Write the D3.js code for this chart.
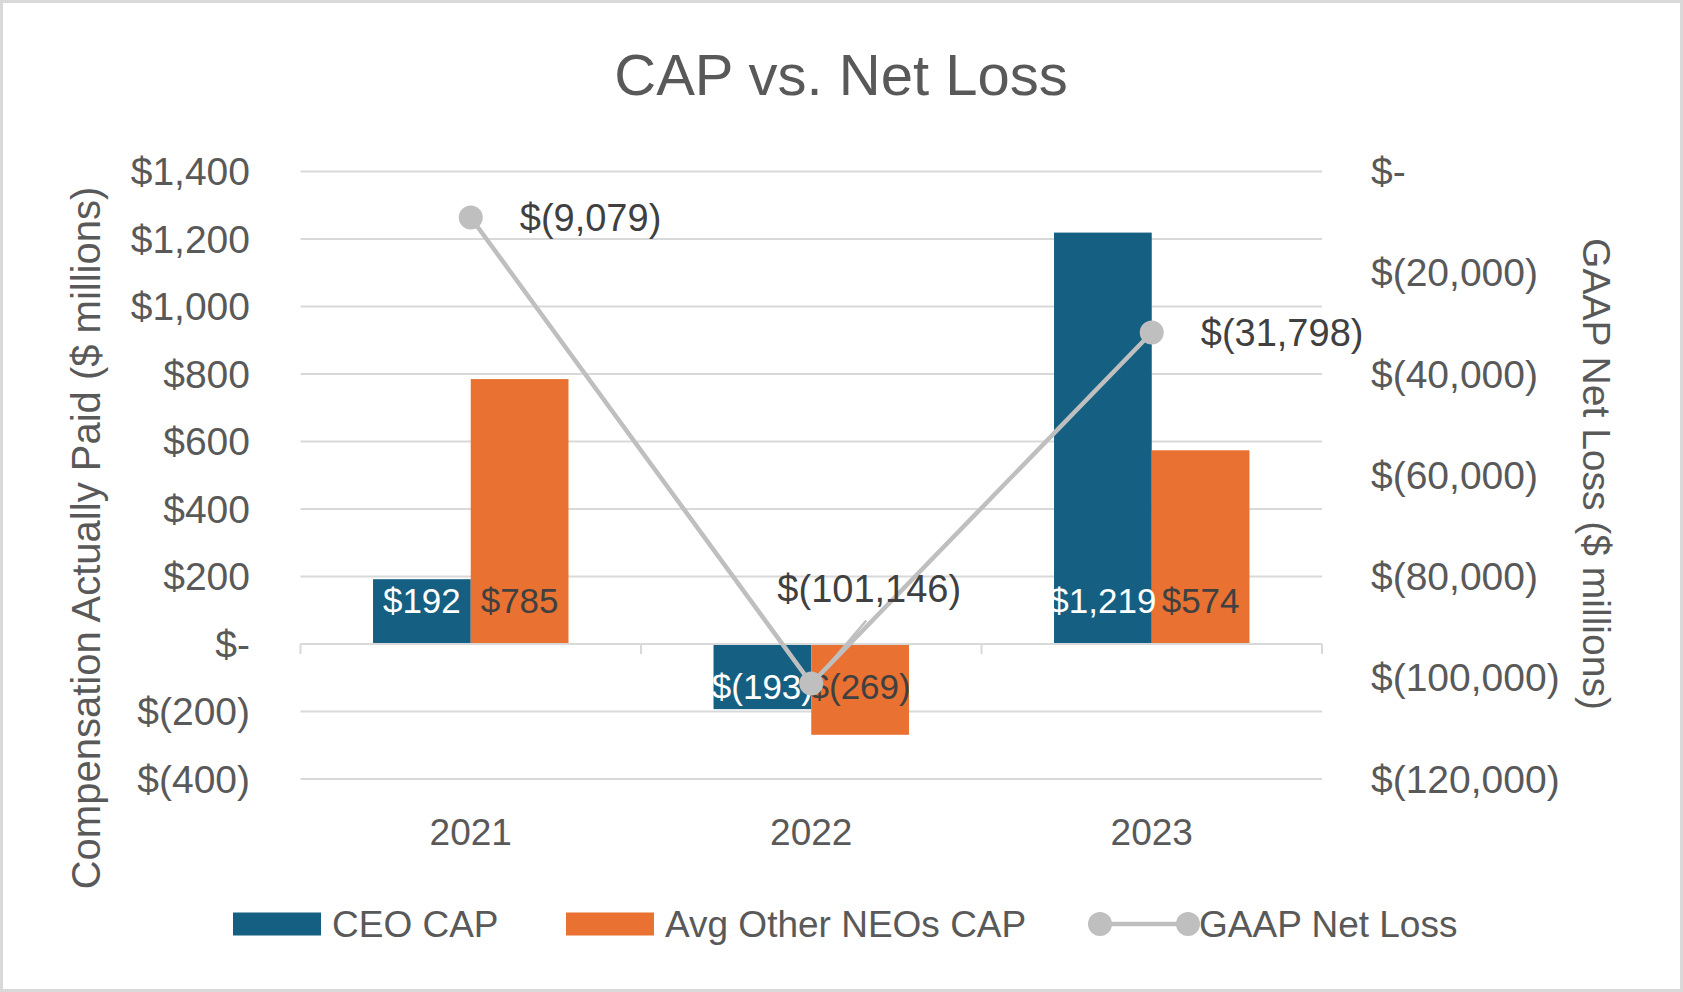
<!DOCTYPE html>
<html>
<head>
<meta charset="utf-8">
<script src="https://cdn.jsdelivr.net/npm/d3@7"></script>
<style>
  body { margin: 0; background: #fff; }
  svg text { font-family: "Liberation Sans", Arial, sans-serif; fill: #595959; }
</style>
</head>
<body>
<svg id="chart"></svg>
<script>
var width = 1683;
var height = 992;

var years = ["2021", "2022", "2023"];
var ceoCap = [192, -193, 1219];
var otherCap = [785, -269, 574];
var netLoss = [-9079, -101146, -31798];
var leftTicks = [1400, 1200, 1000, 800, 600, 400, 200, 0, -200, -400];
var rightTicks = [0, -20000, -40000, -60000, -80000, -100000, -120000];

var seriesNames = ["CEO CAP", "Avg Other NEOs CAP"];
var colors = ["#156082", "#E97132"];
var lineColor = "#BFBFBF";

var svg = d3.select("#chart").attr("width", width).attr("height", height);

svg.append("rect").attr("x", 1.5).attr("y", 1.5)
  .attr("width", width - 3).attr("height", height - 3)
  .attr("fill", "#fff").attr("stroke", "#D9D9D9").attr("stroke-width", 3);

var plotLeft = 300.5, plotRight = 1322, plotTop = 171.5, plotBottom = 779;

var x = d3.scaleBand().domain(years).range([plotLeft, plotRight]);
var bw = x.bandwidth();
var x1 = d3.scaleBand().domain(seriesNames).range([bw * 0.213, bw * 0.787]);
var y = d3.scaleLinear().domain([-400, 1400]).range([plotBottom, plotTop]);
var y2 = d3.scaleLinear().domain([-120000, 0]).range([plotBottom, plotTop]);

// title
svg.append("text").attr("x", 841).attr("y", 95)
  .attr("text-anchor", "middle").style("font-size", "58px").text("CAP vs. Net Loss");

// gridlines
svg.append("g").selectAll("line").data(leftTicks).enter().append("line")
  .attr("x1", plotLeft).attr("x2", plotRight)
  .attr("y1", function(d) { return y(d); }).attr("y2", function(d) { return y(d); })
  .attr("stroke", "#D9D9D9").attr("stroke-width", 2);

// axis labels
function fmt(v) {
  if (v === 0) return "$-";
  var s = d3.format(",")(Math.abs(v));
  return v < 0 ? "$(" + s + ")" : "$" + s;
}
svg.append("g").selectAll("text").data(leftTicks).enter().append("text")
  .attr("x", 250).attr("y", function(d) { return y(d); })
  .attr("dy", "0.35em").attr("text-anchor", "end")
  .style("font-size", "39px").text(fmt);

svg.append("g").selectAll("text").data(rightTicks).enter().append("text")
  .attr("x", 1371).attr("y", function(d) { return y2(d); })
  .attr("dy", "0.35em").attr("text-anchor", "start")
  .style("font-size", "39px").text(fmt);

// axis titles
svg.append("text").attr("transform", "translate(86,538) rotate(-90)")
  .attr("dy", "0.35em").attr("text-anchor", "middle").style("font-size", "40px")
  .text("Compensation Actually Paid ($ millions)");
svg.append("text").attr("transform", "translate(1597,474) rotate(90)")
  .attr("dy", "0.35em").attr("text-anchor", "middle").style("font-size", "39px")
  .text("GAAP Net Loss ($ millions)");

// bars
var barData = [];
years.forEach(function(yr, i) {
  barData.push({ year: yr, s: seriesNames[0], v: ceoCap[i], c: colors[0], tc: "#FFFFFF" });
  barData.push({ year: yr, s: seriesNames[1], v: otherCap[i], c: colors[1], tc: "#404040" });
});
svg.append("g").selectAll("rect").data(barData).enter().append("rect")
  .attr("x", function(d) { return x(d.year) + x1(d.s); })
  .attr("width", x1.bandwidth())
  .attr("y", function(d) { return y(Math.max(0, d.v)); })
  .attr("height", function(d) { return Math.abs(y(d.v) - y(0)); })
  .attr("fill", function(d) { return d.c; });

// x axis baseline and ticks
svg.append("line").attr("x1", plotLeft).attr("x2", plotRight)
  .attr("y1", y(0)).attr("y2", y(0)).attr("stroke", "#D9D9D9").attr("stroke-width", 2);
svg.append("g").selectAll("line").data([plotLeft].concat(years.map(function(d) { return x(d) + bw; })))
  .enter().append("line")
  .attr("x1", function(d) { return d; }).attr("x2", function(d) { return d; })
  .attr("y1", y(0)).attr("y2", y(0) + 10)
  .attr("stroke", "#D9D9D9").attr("stroke-width", 2);

// bar labels
svg.append("g").selectAll("text").data(barData).enter().append("text")
  .attr("x", function(d) { return x(d.year) + x1(d.s) + x1.bandwidth() / 2; })
  .attr("y", function(d) { return y(0) + (d.v >= 0 ? -43 : 43); })
  .attr("dy", "0.35em").attr("text-anchor", "middle")
  .style("font-size", "35px").style("fill", function(d) { return d.tc; })
  .text(function(d) { return fmt(d.v); });

// x labels
svg.append("g").selectAll("text").data(years).enter().append("text")
  .attr("x", function(d) { return x(d) + bw / 2; }).attr("y", 845)
  .attr("text-anchor", "middle").style("font-size", "37px").text(function(d) { return d; });

// line series
var pts = years.map(function(yr, i) { return { year: yr, v: netLoss[i] }; });
var line = d3.line()
  .x(function(d) { return x(d.year) + bw / 2; })
  .y(function(d) { return y2(d.v); });
svg.append("path").datum(pts).attr("d", line)
  .attr("fill", "none").attr("stroke", lineColor).attr("stroke-width", 4.5);
svg.append("g").selectAll("circle").data(pts).enter().append("circle")
  .attr("cx", function(d) { return x(d.year) + bw / 2; })
  .attr("cy", function(d) { return y2(d.v); })
  .attr("r", 12).attr("fill", lineColor);

// line labels (middle one moved up with a leader line)
var labelOffsets = [[49, 0, "start"], [58, -95, "middle"], [49, 0, "start"]];
var mid = pts[1];
svg.append("line")
  .attr("x1", x(mid.year) + bw / 2 + 55).attr("y1", y2(mid.v) - 63)
  .attr("x2", x(mid.year) + bw / 2 + 4).attr("y2", y2(mid.v) - 3)
  .attr("stroke", lineColor).attr("stroke-width", 2.5);
svg.append("g").selectAll("text").data(pts).enter().append("text")
  .attr("x", function(d, i) { return x(d.year) + bw / 2 + labelOffsets[i][0]; })
  .attr("y", function(d, i) { return y2(d.v) + labelOffsets[i][1]; })
  .attr("dy", "0.35em").attr("text-anchor", function(d, i) { return labelOffsets[i][2]; })
  .style("font-size", "38px").style("fill", "#404040")
  .text(function(d) { return fmt(d.v); });

// legend
var lg = svg.append("g");
var legendY = 924;
[[233, 0], [566, 1]].forEach(function(p) {
  lg.append("rect").attr("x", p[0]).attr("y", legendY - 11.5).attr("width", 88).attr("height", 23)
    .attr("fill", colors[p[1]]);
  lg.append("text").attr("x", p[0] + 99).attr("y", legendY).attr("dy", "0.35em")
    .style("font-size", "37px").text(seriesNames[p[1]]);
});
lg.append("line").attr("x1", 1100).attr("x2", 1188).attr("y1", legendY).attr("y2", legendY)
  .attr("stroke", lineColor).attr("stroke-width", 4.5);
lg.selectAll("circle").data([1100, 1188]).enter().append("circle")
  .attr("cx", function(d) { return d; }).attr("cy", legendY).attr("r", 12).attr("fill", lineColor);
lg.append("text").attr("x", 1199).attr("y", legendY).attr("dy", "0.35em")
  .style("font-size", "37px").text("GAAP Net Loss");
</script>
</body>
</html>
